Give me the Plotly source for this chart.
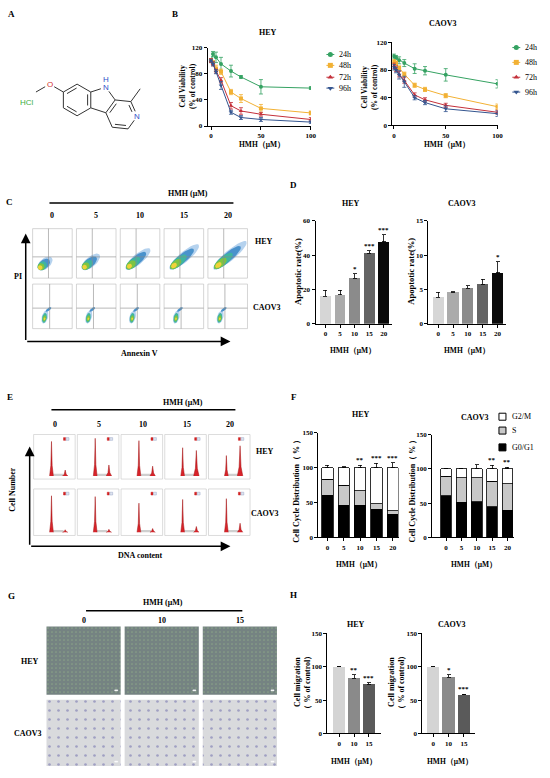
import numpy as np
import plotly.graph_objects as go

W, H = 550, 778
SERIF = "Liberation Serif"
SANS = "Liberation Sans"

# ------------------------------------------------------------------ data
conc_b = [0, 2, 5, 10, 20, 30, 50, 100]
time_labels = ["24h", "48h", "72h", "96h"]
hey_24h = [100, 110, 105, 95, 84, 75, 60, 58]
hey_48h = [100, 97, 88, 83, 52, 42, 27, 20]
hey_72h = [100, 95, 84, 70, 31, 23, 18, 10]
hey_96h = [100, 95, 83, 62, 21, 13, 10, 6]
hey_24h_err = [3, 4, 8, 10, 9, 2, 11, 2]
hey_48h_err = [3, 3, 5, 4, 4, 6, 6, 3]
hey_72h_err = [3, 3, 3, 4, 5, 5, 3, 3]
hey_96h_err = [2, 3, 3, 6, 3, 3, 3, 2]
caov3_24h = [100, 98, 94, 90, 82, 79, 73, 60]
caov3_48h = [92, 90, 83, 74, 58, 52, 43, 27]
caov3_72h = [86, 82, 74, 65, 44, 37, 29, 19]
caov3_96h = [84, 80, 73, 63, 40, 33, 24, 17]
caov3_24h_err = [3, 3, 5, 5, 7, 6, 9, 6]
caov3_48h_err = [3, 3, 3, 3, 3, 3, 3, 4]
caov3_72h_err = [4, 4, 4, 4, 3, 3, 3, 3]
caov3_96h_err = [4, 4, 6, 8, 3, 3, 4, 4]

dose_labels = ["0", "5", "10", "15", "20"]
apop_hey = [16, 17, 26.5, 41, 47.7]
apop_hey_err = [3.5, 2.5, 2.5, 1.5, 4]
apop_hey_sig = ["", "", "*", "***", "***"]
apop_caov3 = [3.85, 4.57, 5.14, 5.77, 7.4]
apop_caov3_err = [0.7, 0.1, 0.4, 0.7, 1.6]
apop_caov3_sig = ["", "", "", "", "*"]

phase_labels = ["G2/M", "S", "G0/G1"]
cc_hey_g1 = [60, 46, 46, 40, 33]
cc_hey_s = [23, 29, 21, 8, 5]
cc_hey_g2m = [17, 25, 33, 52, 62]
cc_hey_g1_err = [8, 2, 4, 3, 2]
cc_hey_s_err = [6, 5, 8, 5, 2]
cc_hey_g2m_err = [3, 1, 3, 6, 7]
cc_hey_sig = ["", "", "**", "***", "***"]
cc_caov3_g1 = [61, 51, 52, 45, 40]
cc_caov3_s = [28, 36, 35, 37, 38]
cc_caov3_g2m = [11, 13, 13, 18, 22]
cc_caov3_g1_err = [3, 3, 14, 4, 1]
cc_caov3_s_err = [2, 2, 3, 1, 2]
cc_caov3_g2m_err = [1, 1, 6, 5, 2]
cc_caov3_sig = ["", "", "", "**", "**"]

mig_labels = ["0", "10", "15"]
mig_hey = [100, 83, 74]
mig_hey_err = [0, 5, 2]
mig_hey_sig = ["", "**", "***"]
mig_caov3 = [100, 84, 58]
mig_caov3_err = [0, 4, 1]
mig_caov3_sig = ["", "*", "***"]

# illustrative panels (relative heights)
hist_g1_hey = [0.88, 0.96, 0.90, 0.72, 0.52]
hist_g2_hey = [0.15, 0.28, 0.25, 0.65, 0.77]
hist_g1_caov3 = [0.89, 0.87, 0.71, 0.80, 0.82]
hist_g2_caov3 = [0.06, 0.07, 0.09, 0.14, 0.22]
flow_spread_hey = [0.28, 0.36, 0.5, 0.6, 0.68]

# ------------------------------------------------------------------ helpers
def xd(l, r):
    return [l / W, r / W]

def yd(top, bot):
    return [1 - bot / H, 1 - top / H]

def ax_style(**kw):
    d = dict(showline=True, linecolor="black", linewidth=1, ticks="outside",
             ticklen=3, tickwidth=1, tickcolor="black", showgrid=False,
             zeroline=False, fixedrange=True,
             tickfont=dict(family=SERIF, size=7, color="black", weight="bold"))
    d.update(kw)
    return d

fig = go.Figure()
ann = []
shapes = []

def text(x, y, s, size=8, bold=True, color="black", angle=0, xanchor="center",
         family=SERIF):
    ann.append(dict(x=x, y=y, xref="x9", yref="y9", text=s, showarrow=False,
                    textangle=angle, xanchor=xanchor, yanchor="middle",
                    font=dict(family=family, size=size, color=color,
                              weight="bold" if bold else "normal")))

def cline(x0, y0, x1, y1, color="black", width=1):
    shapes.append(dict(type="line", x0=x0, y0=y0, x1=x1, y1=y1, xref="x9",
                       yref="y9", line=dict(color=color, width=width)))

def crect(x0, y0, x1, y1, color="#bbbbbb", width=0.6, fill=None):
    shapes.append(dict(type="rect", x0=x0, y0=y0, x1=x1, y1=y1, xref="x9",
                       yref="y9", line=dict(color=color, width=width),
                       fillcolor=fill if fill else "rgba(0,0,0,0)"))

def arrow(x0, y0, x1, y1):
    ann.append(dict(x=x1, y=y1, ax=x0, ay=y0, xref="x9", yref="y9",
                    axref="x9", ayref="y9", text="", showarrow=True,
                    arrowhead=2, arrowsize=1.3, arrowwidth=1.5,
                    arrowcolor="black"))

def canvas_poly(xs, ys, fill, line="rgba(0,0,0,0)", lw=0, pattern=None):
    kw = dict(x=xs, y=ys, mode="lines", fill="toself", fillcolor=fill,
              line=dict(color=line, width=lw), xaxis="x9", yaxis="y9",
              hoverinfo="skip", showlegend=False)
    if pattern:
        kw["fillpattern"] = pattern
    fig.add_trace(go.Scatter(**kw))

def ellipse_pts(cx, cy, a, b, ang):
    t = np.linspace(0, 2 * np.pi, 36)
    th = np.radians(ang)
    x = cx + a * np.cos(t) * np.cos(th) - b * np.sin(t) * np.sin(th)
    y = cy + a * np.cos(t) * np.sin(th) + b * np.sin(t) * np.cos(th)
    return list(x) + [None], list(y) + [None]

# ------------------------------------------------------------------ panel letters
for lab, px, py in [("A", 12, 10), ("B", 177, 10), ("C", 10, 200), ("D", 297, 183),
                    ("E", 10, 397), ("F", 297, 397), ("G", 12, 598), ("H", 297, 597)]:
    text(px, py, lab, size=9)

# ------------------------------------------------------------------ panel A (structure)
Rp = 1 / (2 * np.sin(np.pi / 5))
P = {n: np.array([Rp * np.cos(np.radians(a)), Rp * np.sin(np.radians(a))])
     for n, a in zip(["N9", "C9a", "C4a", "C4b", "C8a"], [90, 18, -54, -126, 162])}

def hex_ring(a, b):
    m = (a + b) / 2
    d = b - a
    n = np.array([-d[1], d[0]]) / np.linalg.norm(d)
    if np.dot(n, m) < 0:
        n = -n
    c = m + n * np.sqrt(3) / 2
    aa = np.arctan2(*(a - c)[::-1])
    ab = np.arctan2(*(b - c)[::-1])
    diff = (ab - aa + np.pi) % (2 * np.pi) - np.pi
    step = -np.sign(diff) * np.pi / 3
    return c, [c + np.array([np.cos(aa + k * step), np.sin(aa + k * step)]) for k in range(6)]

cb, benz = hex_ring(P["C8a"], P["C4b"])
for n, v in zip(["C8a", "C8", "C7", "C6", "C5", "C4b"], benz):
    P[n] = v
cp, pyr = hex_ring(P["C9a"], P["C4a"])
for n, v in zip(["C9a", "C1", "N2", "C3", "C4", "C4a"], pyr):
    P[n] = v
u = (P["C7"] - cb) / np.linalg.norm(P["C7"] - cb)
P["O"] = P["C7"] + u
th = np.radians(60)
P["Me"] = P["O"] + np.array([u[0] * np.cos(th) - u[1] * np.sin(th), u[0] * np.sin(th) + u[1] * np.cos(th)])
P["Me1"] = P["C1"] + (P["C1"] - cp) / np.linalg.norm(P["C1"] - cp)

rot = np.radians(-18)
scale, N9px = 16, (107, 84)
def to_px(p):
    q = p - P["N9"]
    x = q[0] * np.cos(rot) - q[1] * np.sin(rot)
    y = q[0] * np.sin(rot) + q[1] * np.cos(rot)
    return np.array([N9px[0] + scale * x, N9px[1] - scale * y])

centers = {"b": cb, "p": cp}
bonds = [("N9", "C9a"), ("C9a", "C4a"), ("C4a", "C4b"), ("C4b", "C8a"), ("C8a", "N9"),
         ("C8a", "C8"), ("C8", "C7"), ("C7", "C6"), ("C6", "C5"), ("C5", "C4b"),
         ("C9a", "C1"), ("C1", "N2"), ("N2", "C3"), ("C3", "C4"), ("C4", "C4a"),
         ("C7", "O"), ("O", "Me"), ("C1", "Me1")]
doubles = [("C8", "C7", "b"), ("C6", "C5", "b"), ("C4b", "C8a", "b"),
           ("C1", "N2", "p"), ("C3", "C4", "p"), ("C4a", "C9a", "p")]
labeled = {"N9", "N2", "O"}
bx, by = [], []
for a, b in bonds:
    pa, pb = P[a].copy(), P[b].copy()
    d = (pb - pa) / np.linalg.norm(pb - pa)
    if a in labeled:
        pa = pa + 0.33 * d
    if b in labeled:
        pb = pb - 0.33 * d
    A_, B_ = to_px(pa), to_px(pb)
    bx += [A_[0], B_[0], None]
    by += [A_[1], B_[1], None]
for a, b, r in doubles:
    pa, pb = P[a].copy(), P[b].copy()
    c = centers[r]
    mid = (pa + pb) / 2
    off = (c - mid) / np.linalg.norm(c - mid) * 0.2
    d = (pb - pa) / np.linalg.norm(pb - pa)
    ta = 0.38 if a in labeled else 0.15
    tb = 0.38 if b in labeled else 0.15
    A_, B_ = to_px(pa + off + ta * d), to_px(pb + off - tb * d)
    bx += [A_[0], B_[0], None]
    by += [A_[1], B_[1], None]
fig.add_trace(go.Scatter(x=bx, y=by, mode="lines", line=dict(color="#333333", width=1),
                         xaxis="x9", yaxis="y9", hoverinfo="skip", showlegend=False))
n9 = to_px(P["N9"]); n2 = to_px(P["N2"]); o = to_px(P["O"])
text(n9[0], n9[1], "N", size=8, bold=False, color="#3050c8", family=SANS)
text(n9[0], n9[1] - 8, "H", size=8, bold=False, color="#3050c8", family=SANS)
text(n2[0], n2[1], "N", size=8, bold=False, color="#3050c8", family=SANS)
text(o[0], o[1], "O", size=8, bold=False, color="#d03030", family=SANS)
text(27, 100, "HCl", size=8, bold=False, color="#3cb043", family=SANS)

# ------------------------------------------------------------------ panel B
b_colors = ["#35a262", "#f2b134", "#c4303a", "#34558f"]
b_symbols = ["circle", "square", "triangle-up", "triangle-down"]
hey_series = [hey_24h, hey_48h, hey_72h, hey_96h]
hey_errs = [hey_24h_err, hey_48h_err, hey_72h_err, hey_96h_err]
cao_series = [caov3_24h, caov3_48h, caov3_72h, caov3_96h]
cao_errs = [caov3_24h_err, caov3_48h_err, caov3_72h_err, caov3_96h_err]
for axn, series, errs in [("", hey_series, hey_errs), ("2", cao_series, cao_errs)]:
    for vals, err, col, sym in zip(series, errs, b_colors, b_symbols):
        fig.add_trace(go.Scatter(
            x=conc_b, y=vals, mode="lines+markers",
            line=dict(color=col, width=1), marker=dict(symbol=sym, size=4, color=col),
            error_y=dict(type="data", array=err, color=col, thickness=0.8, width=2),
            xaxis="x" + axn, yaxis="y" + axn, showlegend=False, hoverinfo="skip"))
# legends
for lx, rows in [(334, [51, 62, 74, 85]), (522, [44, 59, 74, 89])]:
    for lab, col, sym, ry in zip(time_labels, b_colors, b_symbols, rows):
        fig.add_trace(go.Scatter(x=[lx - 4, lx, lx + 4], y=[ry, ry, ry], mode="lines",
                                 line=dict(color=col, width=1), xaxis="x9", yaxis="y9",
                                 hoverinfo="skip", showlegend=False))
        fig.add_trace(go.Scatter(x=[lx], y=[ry], mode="markers",
                                 marker=dict(symbol=sym, size=5, color=col),
                                 xaxis="x9", yaxis="y9", hoverinfo="skip", showlegend=False))
        text(lx + 7, ry, lab, size=8, bold=False, xanchor="left")
text(271, 29, "HEY", size=8)
text(448, 20, "CAOV3", size=8)
text(189, 83, "Cell Viability<br>(% of control)", size=7.5, angle=-90)
text(373, 84, "Cell Viability<br>(% of control)", size=7.5, angle=-90)
text(265, 142, "HMH（μM）", size=7.5)
text(452, 142, "HMH（μM）", size=7.5)

# ------------------------------------------------------------------ bar helper
def bars(axn, labels, vals, errs, colors, sigs, width):
    xs = list(range(len(labels)))
    fig.add_trace(go.Bar(x=xs, y=vals, width=width, marker=dict(color=colors, line=dict(width=0)),
                         error_y=dict(type="data", array=errs, arrayminus=[0] * len(errs),
                                      symmetric=False, color="black", thickness=0.8, width=2),
                         xaxis="x" + axn, yaxis="y" + axn, showlegend=False, hoverinfo="skip"))
    for i, (v, e, s) in enumerate(zip(vals, errs, sigs)):
        if s:
            ann.append(dict(x=i, y=v + e, xref="x" + axn, yref="y" + axn, text=s,
                            showarrow=False, yanchor="bottom", yshift=-1,
                            font=dict(family=SERIF, size=7, color="black", weight="bold")))

# ------------------------------------------------------------------ panel D
grey5 = ["#d6d6d6", "#ababab", "#8b8b8b", "#646464", "#0a0a0a"]
bars("3", dose_labels, apop_hey, apop_hey_err, grey5, apop_hey_sig, 0.75)
bars("4", dose_labels, apop_caov3, apop_caov3_err, grey5, apop_caov3_sig, 0.75)
text(355, 202, "HEY", size=8)
text(467, 202, "CAOV3", size=8)
text(301, 270, "Apoptotic rate(%)", size=8.5, angle=-90)
text(416, 270, "Apoptotic rate(%)", size=8.5, angle=-90)
text(357, 350, "HMH（μM）", size=7.5)
text(472, 350, "HMH（μM）", size=7.5)

# ------------------------------------------------------------------ panel F
ph_colors = ["#ffffff", "#c8c8c8", "#000000"]
for axn, g1, s, g2m, e1, es, e2, sig in [
        ("5", cc_hey_g1, cc_hey_s, cc_hey_g2m, cc_hey_g1_err, cc_hey_s_err, cc_hey_g2m_err, cc_hey_sig),
        ("6", cc_caov3_g1, cc_caov3_s, cc_caov3_g2m, cc_caov3_g1_err, cc_caov3_s_err, cc_caov3_g2m_err, cc_caov3_sig)]:
    xs = list(range(len(dose_labels)))
    for vals, errs, col in [(g1, e1, ph_colors[2]), (s, es, ph_colors[1]), (g2m, e2, ph_colors[0])]:
        fig.add_trace(go.Bar(x=xs, y=vals, width=0.7,
                             marker=dict(color=col, line=dict(color="black", width=0.8)),
                             error_y=dict(type="data", array=errs, arrayminus=[0] * len(errs),
                                          symmetric=False, color="black", thickness=0.8, width=2),
                             xaxis="x" + axn, yaxis="y" + axn, showlegend=False, hoverinfo="skip"))
    tops = [a + b + c for a, b, c in zip(g1, s, g2m)]
    for i, st in enumerate(sig):
        if st:
            ann.append(dict(x=i, y=tops[i] + e2[i], xref="x" + axn, yref="y" + axn, text=st,
                            showarrow=False, yanchor="bottom", yshift=-1,
                            font=dict(family=SERIF, size=7, color="black", weight="bold")))
for lab, col, ry in zip(phase_labels, ph_colors, [417, 431, 448]):
    fig.add_trace(go.Scatter(x=[508], y=[ry], mode="markers",
                             marker=dict(symbol="square", size=7, color=col,
                                         line=dict(color="black", width=1)),
                             xaxis="x9", yaxis="y9", hoverinfo="skip", showlegend=False))
    text(516, ry, lab, size=8, bold=False, xanchor="left")
text(365, 415, "HEY", size=8)
text(480, 418, "CAOV3", size=8)
text(300, 490, "Cell Cycle Distribution（ % ）", size=8, angle=-90)
text(418, 490, "Cell Cycle Distribution（ % ）", size=8, angle=-90)
text(363, 566, "HMH（μM）", size=7.5)
text(479, 566, "HMH（μM）", size=7.5)

# ------------------------------------------------------------------ panel H
grey3 = ["#d4d4d4", "#8a8a8a", "#5a5a5a"]
bars("7", mig_labels, mig_hey, mig_hey_err, grey3, mig_hey_sig, 0.8)
bars("8", mig_labels, mig_caov3, mig_caov3_err, grey3, mig_caov3_sig, 0.8)
text(360, 627, "HEY", size=8)
text(457, 627, "CAOV3", size=8)
text(306, 685, "Cell migration<br>（ % of control）", size=8, angle=-90)
text(401, 685, "Cell migration<br>（ % of control）", size=8, angle=-90)
text(358, 765, "HMH（μM）", size=7.5)
text(455, 765, "HMH（μM）", size=7.5)

# ------------------------------------------------------------------ panel C (flow plots)
c_lefts = [33 + 44.3 * i for i in range(5)]
cw = 40
text(190, 191, "HMH (μM)", size=8)
cline(50, 201, 236, 201, width=1.5)
for i, L in enumerate(c_lefts):
    text(L + cw / 2, 214, dose_labels[i], size=8)
layer_cols = ["#b5d2ee", "#4a92cc", "#3fb5a0", "#7cc444", "#f0d23a"]
lx = {k: [] for k in layer_cols}
ly = {k: [] for k in layer_cols}
for i, L in enumerate(c_lefts):
    T, h = 227, 50
    crect(L, T, L + cw, T + h, color="#b8b8b8")
    cline(L + 0.4 * cw, T, L + 0.4 * cw, T + h, color="#8a8a8a", width=0.6)
    cline(L, T + 0.57 * h, L + cw, T + 0.57 * h, color="#8a8a8a", width=0.6)
    s = flow_spread_hey[i]
    p0 = np.array([L + 0.14 * cw, T + 0.82 * h])
    ang = -40
    dvec = np.array([np.cos(np.radians(ang)), np.sin(np.radians(ang))])
    a = s * cw * 0.8
    for col, fa, bw, shift in [("#b5d2ee", 1.0, 5.2, 1.0), ("#4a92cc", 0.8, 4.4, 0.85),
                               ("#3fb5a0", 0.55, 4.2, 0.6), ("#7cc444", 0.36, 3.6, 0.42),
                               ("#f0d23a", 0.17, 2.4, 0.3)]:
        c = p0 + dvec * a * shift
        xs, ys = ellipse_pts(c[0], c[1], max(a * fa, bw), bw, ang)
        lx[col] += xs
        ly[col] += ys
    # CAOV3 row
    T2, h2 = 283, 45
    crect(L, T2, L + cw, T2 + h2, color="#b8b8b8")
    cline(L + 0.43 * cw, T2, L + 0.43 * cw, T2 + h2, color="#8a8a8a", width=0.6)
    cline(L, T2 + 0.54 * h2, L + cw, T2 + 0.54 * h2, color="#8a8a8a", width=0.6)
    for col, cx, cy, a2, b2, ang2 in [("#b5d2ee", 0.31, 0.74, 0.15, 0.08, -75),
                                      ("#4a92cc", 0.40, 0.57, 0.08, 0.035, -40),
                                      ("#3fb5a0", 0.30, 0.76, 0.11, 0.06, -80),
                                      ("#7cc444", 0.30, 0.77, 0.07, 0.045, -80),
                                      ("#f0d23a", 0.30, 0.78, 0.03, 0.025, -80)]:
        xs, ys = ellipse_pts(L + cx * cw, T2 + cy * h2, a2 * h2, b2 * cw, ang2)
        lx[col] += xs
        ly[col] += ys
for col in layer_cols:
    canvas_poly(lx[col], ly[col], col)
text(267, 240, "HEY", size=8)
text(270, 307, "CAOV3", size=8)
text(18, 275, "PI", size=8)
text(141, 353, "Annexin V", size=8)
arrow(26, 341, 26, 232)
arrow(26, 341, 233, 341)

# ------------------------------------------------------------------ panel E (histograms)
e_lefts = [34 + 44.2 * i for i in range(5)]
ew = 42
text(185, 403, "HMH (μM)", size=8)
cline(52, 410, 238, 410, width=1.5)
for i, L in enumerate(e_lefts):
    text(L + ew / 2 + 1, 425, dose_labels[i], size=8)
rx, ry_ = [], []
gx, gy = [], []
for (T, h, g1s, g2s) in [(435, 45, hist_g1_hey, hist_g2_hey), (490, 47, hist_g1_caov3, hist_g2_caov3)]:
    for i, L in enumerate(e_lefts):
        crect(L, T, L + ew, T + h, color="#c4c4c4")
        base = T + 0.93 * h
        gx += [L + 0.47 * ew, L + 0.72 * ew, L + 0.72 * ew, L + 0.47 * ew, None]
        gy += [base, base, base - 0.05 * h, base - 0.05 * h, None]
        for xc, hb, frac in [(L + 0.43 * ew, 0.045 * ew, g1s[i]), (L + 0.76 * ew, 0.065 * ew, g2s[i])]:
            hg = frac * 0.88 * h
            rx += [xc - hb, xc - 0.35 * hb, xc, xc + 0.35 * hb, xc + hb, None]
            ry_ += [base, base - 0.3 * hg, base - hg, base - 0.3 * hg, base, None]
        crect(L + 0.72 * ew, T + 0.07 * h, L + 0.77 * ew, T + 0.13 * h, color="#cc2020", width=0.5, fill="#d42020")
        crect(L + 0.78 * ew, T + 0.07 * h, L + 0.85 * ew, T + 0.13 * h, color="#9aa8c8", width=0.5, fill="#dfe4ef")
canvas_poly(gx, gy, "#cfcfcf")
canvas_poly(rx, ry_, "#d8232a", line="#a01010", lw=0.5)
text(268, 452, "HEY", size=8)
text(268, 515, "CAOV3", size=8)
text(13, 490, "Cell Number", size=8, angle=-90)
text(142, 557, "DNA content", size=8)
arrow(30, 548, 30, 447)
arrow(30, 548, 233, 548)

# ------------------------------------------------------------------ panel G (migration images)
g_lefts = [47, 126, 205]
gw = 75
text(165, 605, "HMH (μM)", size=8)
cline(87, 613, 245, 613, width=1.5)
for i, L in enumerate(g_lefts):
    text(L + gw / 2, 623, mig_labels[i], size=8)
for (T, B, bg, fg, sz, sol) in [(629, 698, "#9fca8c", "#4b3c78", 4, 0.86),
                                 (703, 770, "#d9dadd", "#6764a8", 9, 0.07)]:
    for L in g_lefts:
        canvas_poly([L, L + gw, L + gw, L, L], [T, T, B, B, T], bg,
                    pattern=dict(shape=".", bgcolor=bg, fgcolor=fg, size=sz, solidity=sol))
        crect(L + gw - 6, B - 5, L + gw - 3, B - 4, color="white", width=0.5, fill="white")
text(30, 664, "HEY", size=8)
text(28, 737, "CAOV3", size=8)

# ------------------------------------------------------------------ layout
tick5 = dict(tickvals=list(range(5)), ticktext=dose_labels)
tick3 = dict(tickvals=list(range(3)), ticktext=mig_labels)
fig.update_layout(
    width=W, height=H, margin=dict(l=0, r=0, t=0, b=0),
    paper_bgcolor="white", plot_bgcolor="rgba(0,0,0,0)",
    showlegend=False, barmode="stack",
    xaxis=ax_style(domain=xd(210, 314.3), range=[-3.3, 100], tickvals=[0, 50, 100], anchor="y"),
    yaxis=ax_style(domain=yd(44, 123.3), range=[0, 120], tickvals=[0, 40, 80, 120], anchor="x"),
    xaxis2=ax_style(domain=xd(396.7, 503), range=[-1.5, 100], tickvals=[0, 50, 100], anchor="y2"),
    yaxis2=ax_style(domain=yd(38.7, 122.7), range=[0, 120], tickvals=[0, 40, 80, 120], anchor="x2"),
    xaxis3=ax_style(domain=xd(319, 396), range=[-0.68, 4.54], anchor="y3", **tick5),
    yaxis3=ax_style(domain=yd(219, 323), range=[0, 60], tickvals=[0, 20, 40, 60], anchor="x3"),
    xaxis4=ax_style(domain=xd(433, 512), range=[-0.67, 4.6], anchor="y4", **tick5),
    yaxis4=ax_style(domain=yd(219, 323), range=[0, 15], tickvals=[0, 5, 10, 15], anchor="x4"),
    xaxis5=ax_style(domain=xd(322, 403), range=[-0.55, 4.36], anchor="y5", **tick5),
    yaxis5=ax_style(domain=yd(433, 539), range=[0, 150], tickvals=[0, 50, 100, 150], anchor="x5"),
    xaxis6=ax_style(domain=xd(437, 520), range=[-0.9, 4.45], anchor="y6", **tick5),
    yaxis6=ax_style(domain=yd(435, 539), range=[0, 150], tickvals=[0, 50, 100, 150], anchor="x6"),
    xaxis7=ax_style(domain=xd(331, 385), range=[-0.8, 2.8], anchor="y7", **tick3),
    yaxis7=ax_style(domain=yd(636, 737), range=[0, 150], tickvals=[0, 50, 100, 150], anchor="x7"),
    xaxis8=ax_style(domain=xd(427, 480), range=[-0.71, 2.71], anchor="y8", **tick3),
    yaxis8=ax_style(domain=yd(636, 737), range=[0, 150], tickvals=[0, 50, 100, 150], anchor="x8"),
    xaxis9=dict(domain=[0, 1], range=[0, W], visible=False, fixedrange=True, anchor="y9"),
    yaxis9=dict(domain=[0, 1], range=[H, 0], visible=False, fixedrange=True, anchor="x9"),
    annotations=ann, shapes=shapes,
)
fig.write_html("out.html", config={"displayModeBar": False, "staticPlot": True},
               post_script="document.body.style.margin='0';document.body.style.overflow='hidden';")
